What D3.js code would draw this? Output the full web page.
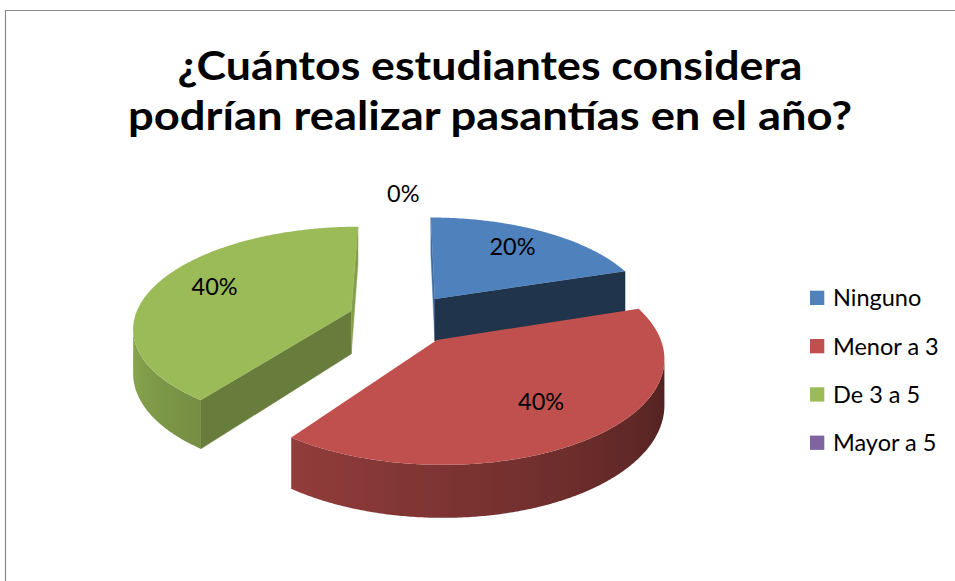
<!DOCTYPE html>
<html>
<head>
<meta charset="utf-8">
<script src="https://cdn.jsdelivr.net/npm/d3@7"></script>
<style>
  html, body { margin: 0; padding: 0; background: #ffffff; }
  svg { display: block; }
</style>
</head>
<body>
<svg id="chart" width="955" height="581"></svg>
<script>
// ---- data ----
const titleLines = ["¿Cuántos estudiantes considera", "podrían realizar pasantías en el año?"];
const categories = ["Ninguno", "Menor a 3", "De 3 a 5", "Mayor a 5"];
const shares = [0.20, 0.40, 0.40, 0.00];
const sliceColors = ["#4F81BD", "#C0504D", "#9BBB59", "#8064A2"];

// ---- 3D view of the pie (unit radius disc, tilted, with perspective) ----
const view = { cx: 403.3, cy: 318.8, s: 217, sinA: 0.457, cosA: 0.889, persp: 0.15 };
const explode = 0.255;   // offset of each slice along its bisector
const thick = 0.225;     // disc thickness
const camera = [0, -1 / view.persp];

function project(u, w, y) {
  const z = 1 + view.persp * w;
  return [view.cx + view.s * u / z, view.cy - view.s * (w * view.sinA + y * view.cosA) / z];
}

const svg = d3.select("#chart");
const defs = svg.append("defs");
const fmtPct = d3.format(".0%");
const color = d3.scaleOrdinal().domain(categories).range(sliceColors);
const FONT = "Lato, 'Open Sans', sans-serif";

// chart frame
svg.append("path")
  .attr("d", "M5.5,581 V10.5 H955")
  .attr("fill", "none")
  .attr("stroke", "#8a8a8a")
  .attr("stroke-width", 1.2);

// title, fitted to the width of the original heading
const titleWidths = [625, 724];
svg.append("g").selectAll("text")
  .data(titleLines)
  .join("text")
  .attr("x", 490)
  .attr("y", (d, i) => 80 + i * 50)
  .attr("text-anchor", "middle")
  .attr("font-family", FONT)
  .attr("font-weight", 700)
  .attr("font-size", 41)
  .attr("textLength", (d, i) => titleWidths[i])
  .attr("lengthAdjust", "spacingAndGlyphs")
  .attr("fill", "#000")
  .text(d => d);

// pie geometry
const arcs = d3.pie().sort(null).value(d => d.value)(
  categories.map((c, i) => ({ name: c, value: shares[i] }))
);

function shade(base, k) {
  const c = d3.rgb(base);
  return d3.rgb(c.r * k, c.g * k, c.b * k).formatHex();
}
// outer wall brightness by facing angle (light from the left)
function wallFactor(theta) {
  const deg = theta * 180 / Math.PI;
  return Math.max(0.3, Math.min(1, 0.38 + 0.00302 * (deg - 90)));
}

const line = d3.line().curve(d3.curveLinearClosed);
const slices = arcs.filter(a => a.endAngle - a.startAngle > 1e-6).map(a => {
  const mid = (a.startAngle + a.endAngle) / 2;
  return { a, mid, au: explode * Math.sin(mid), aw: explode * Math.cos(mid) };
});
slices.sort((p, q) => q.aw - p.aw);   // back to front

const pieG = svg.append("g");
const step = Math.PI / 360;

slices.forEach((sl, si) => {
  const { a, au, aw } = sl;
  const base = color(a.data.name);
  const g = pieG.append("g");
  const pt = (th, r, y) => project(au + r * Math.sin(th), aw + r * Math.cos(th), y);
  const toCam = (u, w) => [camera[0] - u, camera[1] - w];

  // radial walls
  const faces = [
    { th: a.startAngle, n: [-Math.cos(a.startAngle), Math.sin(a.startAngle)], k: 0.67 },
    { th: a.endAngle, n: [Math.cos(a.endAngle), -Math.sin(a.endAngle)], k: 0.40 }
  ];
  faces.forEach(f => {
    const v = toCam(au, aw);
    if (v[0] * f.n[0] + v[1] * f.n[1] <= 0) return;
    const k = Math.abs(f.n[1]) < 0.3 ? 0.85 : f.k;   // faces turned sideways stay light
    const quad = [pt(f.th, 0, 0), pt(f.th, 1, 0), pt(f.th, 1, -thick), pt(f.th, 0, -thick)];
    g.append("path").attr("d", line(quad))
      .attr("fill", shade(base, k)).attr("stroke", shade(base, k)).attr("stroke-width", 0.4);
  });

  // outer curved wall: visible angular range, one shape with a horizontal gradient
  const n = Math.max(2, Math.ceil((a.endAngle - a.startAngle) / step));
  const vis = [];
  for (let i = 0; i <= n; i++) {
    const t = a.startAngle + (a.endAngle - a.startAngle) * i / n;
    const v = toCam(au + Math.sin(t), aw + Math.cos(t));
    if (v[0] * Math.sin(t) + v[1] * Math.cos(t) > 0) vis.push(t);
  }
  if (vis.length > 1) {
    const samples = vis.map(t => ({ x: pt(t, 1, 0)[0], c: shade(base, wallFactor(t)) }));
    let iMin = 0, iMax = 0;
    samples.forEach((s, i) => { if (s.x < samples[iMin].x) iMin = i; if (s.x > samples[iMax].x) iMax = i; });
    const lo = Math.min(iMin, iMax), hi = Math.max(iMin, iMax);
    const run = samples.slice(lo, hi + 1).sort((p, q) => p.x - q.x);
    const x0 = run[0].x, x1 = run[run.length - 1].x;
    const gid = "wall" + si;
    const grad = defs.append("linearGradient").attr("id", gid)
      .attr("gradientUnits", "userSpaceOnUse")
      .attr("x1", x0).attr("x2", x1).attr("y1", 0).attr("y2", 0);
    run.filter((s, i) => i % 6 === 0 || i === run.length - 1).forEach(s => {
      grad.append("stop").attr("offset", (s.x - x0) / Math.max(1e-6, x1 - x0)).attr("stop-color", s.c);
    });
    const shape = vis.map(t => pt(t, 1, 0)).concat(vis.slice().reverse().map(t => pt(t, 1, -thick)));
    g.append("path").attr("d", line(shape)).attr("fill", `url(#${gid})`);
  }

  // top face
  const top = [pt(0, 0, 0)];
  for (let i = 0; i <= n; i++) {
    top.push(pt(a.startAngle + (a.endAngle - a.startAngle) * i / n, 1, 0));
  }
  g.append("path").attr("d", line(top)).attr("fill", base);
});

// data labels
svg.append("g").selectAll("text")
  .data(arcs)
  .join("text")
  .each(function (d) {
    const mid = (d.startAngle + d.endAngle) / 2;
    const au = explode * Math.sin(mid), aw = explode * Math.cos(mid);
    const inside = d.value > 0;
    const r = inside ? 0.7 : 1.31;
    const p = project(au + r * Math.sin(mid), aw + r * Math.cos(mid), 0);
    d3.select(this).attr("x", p[0]).attr("y", p[1] - (inside ? 4 : 0));
  })
  .attr("dy", "0.36em")
  .attr("text-anchor", "middle")
  .attr("font-family", FONT)
  .attr("font-size", 23.5)
  .attr("fill", "#000")
  .text(d => fmtPct(d.value));

// legend
const legend = svg.append("g").selectAll("g")
  .data(categories)
  .join("g")
  .attr("transform", (d, i) => `translate(810, ${290.7 + i * 48.3})`);
legend.append("rect")
  .attr("width", 14.3).attr("height", 14.3)
  .attr("fill", d => color(d));
legend.append("text")
  .attr("x", 23).attr("y", 15.5)
  .attr("font-family", FONT)
  .attr("font-size", 23.5)
  .attr("fill", "#000")
  .text(d => d);
</script>
</body>
</html>
